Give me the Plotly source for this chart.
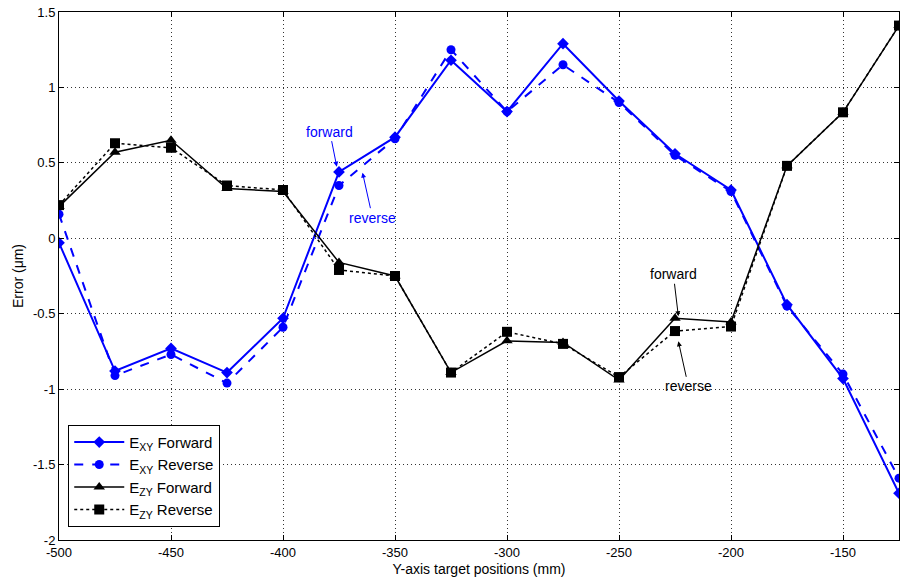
import plotly.graph_objects as go

positions = [-500, -475, -450, -425, -400, -375, -350, -325, -300, -275, -250, -225, -200, -175, -150, -125]
exy_forward = [-0.03, -0.88, -0.73, -0.89, -0.53, 0.44, 0.67, 1.18, 0.84, 1.29, 0.91, 0.56, 0.32, -0.44, -0.93, -1.69]
exy_reverse = [0.16, -0.91, -0.77, -0.96, -0.59, 0.35, 0.66, 1.25, 0.84, 1.15, 0.90, 0.55, 0.31, -0.45, -0.90, -1.59]
ezy_forward = [0.21, 0.57, 0.65, 0.33, 0.31, -0.16, -0.25, -0.89, -0.68, -0.69, -0.94, -0.53, -0.555, 0.48, 0.835, 1.41]
ezy_reverse = [0.22, 0.63, 0.60, 0.35, 0.32, -0.21, -0.25, -0.89, -0.62, -0.70, -0.92, -0.615, -0.585, 0.48, 0.835, 1.41]

x_tickvals = [-500, -450, -400, -350, -300, -250, -200, -150]
x_ticktext = ["-500", "-450", "-400", "-350", "-300", "-250", "-200", "-150"]
y_tickvals = [1.5, 1, 0.5, 0, -0.5, -1, -1.5, -2]
y_ticktext = ["1.5", "1", "0.5", "0", "-0.5", "-1", "-1.5", "-2"]

BLUE = "#0000ff"
BLACK = "#000000"
FONT = "Liberation Sans, Arial, sans-serif"

fig = go.Figure()
fig.add_trace(go.Scatter(x=positions, y=exy_forward, mode="lines+markers",
                         name="E<sub>XY</sub> Forward",
                         line=dict(color=BLUE, width=2, dash="solid"),
                         marker=dict(symbol="diamond", size=9, color=BLUE)))
fig.add_trace(go.Scatter(x=positions, y=exy_reverse, mode="lines+markers",
                         name="E<sub>XY</sub> Reverse",
                         line=dict(color=BLUE, width=2, dash="dash"),
                         marker=dict(symbol="circle", size=9, color=BLUE)))
fig.add_trace(go.Scatter(x=positions, y=ezy_forward, mode="lines+markers",
                         name="E<sub>ZY</sub> Forward",
                         line=dict(color=BLACK, width=1.5, dash="solid"),
                         marker=dict(symbol="triangle-up", size=10, color=BLACK)))
fig.add_trace(go.Scatter(x=positions, y=ezy_reverse, mode="lines+markers",
                         name="E<sub>ZY</sub> Reverse",
                         line=dict(color=BLACK, width=1.5, dash="dot"),
                         marker=dict(symbol="square", size=10, color=BLACK)))

annotations = [
    dict(x=-376, y=0.475, text="forward", ax=-7, ay=-35, color=BLUE),
    dict(x=-364.5, y=0.435, text="reverse", ax=10, ay=45, color=BLUE),
    dict(x=-223.5, y=-0.517, text="forward", ax=-5, ay=-42, color=BLACK),
    dict(x=-223.5, y=-0.683, text="reverse", ax=10, ay=45, color=BLACK),
]
for a in annotations:
    fig.add_annotation(x=a["x"], y=a["y"], xref="x", yref="y", text=a["text"],
                       ax=a["ax"], ay=a["ay"], showarrow=True, arrowhead=2,
                       arrowsize=1, arrowwidth=1, arrowcolor=a["color"],
                       font=dict(family=FONT, size=14, color=a["color"]))

axis_common = dict(showline=True, linecolor="black", linewidth=1, mirror="ticks",
                   ticks="inside", ticklen=5, tickcolor="black",
                   showgrid=True, gridcolor="rgba(0,0,0,0.8)", griddash="1px,3px", gridwidth=1,
                   zeroline=False, tickfont=dict(family=FONT, size=13, color="black"))

fig.update_xaxes(range=[-500, -125], tickvals=x_tickvals, ticktext=x_ticktext,
                 title=dict(text="Y-axis target positions (mm)", standoff=5,
                            font=dict(family=FONT, size=14, color="black")),
                 **axis_common)
fig.update_yaxes(range=[-2, 1.5], tickvals=y_tickvals, ticktext=y_ticktext,
                 title=dict(text="Error (μm)", standoff=6,
                            font=dict(family=FONT, size=14, color="black")),
                 **axis_common)

fig.update_layout(
    width=901, height=585,
    margin=dict(l=59, r=2, t=12, b=45),
    paper_bgcolor="white", plot_bgcolor="white",
    font=dict(family=FONT, size=13, color="black"),
    legend=dict(x=0.011, y=0.025, xanchor="left", yanchor="bottom",
                bgcolor="white", bordercolor="black", borderwidth=1,
                font=dict(family=FONT, size=15, color="black"),
                itemwidth=50, tracegroupgap=0),
    showlegend=True,
)

fig.write_html("out.html")
